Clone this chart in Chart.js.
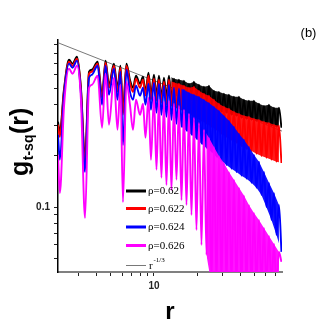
<!DOCTYPE html>
<html>
<head>
<meta charset="utf-8">
<script src="https://cdn.jsdelivr.net/npm/chart.js@4.4.1/dist/chart.umd.min.js"></script>
<style>
  html, body { margin: 0; padding: 0; background: #ffffff; }
  #wrap { width: 327px; height: 327px; position: relative; }
</style>
</head>
<body>
<div id="wrap"><canvas id="c"></canvas></div>
<script>
// ---- data ----
const rValues = [
  2.155, 2.22, 2.37, 2.57, 2.72, 2.92, 3.11, 3.32, 3.54, 3.71, 4.06, 4.36, 4.61, 4.87,
  5.27, 5.58, 5.85, 6.09, 6.44, 6.81, 7.15, 7.50, 8.00, 8.39, 8.73, 9.16, 9.53,
  10.00, 10.41, 10.83, 11.27, 11.73, 12.21, 12.71, 13.23, 13.77, 14.33, 14.92, 15.53, 16.16,
  16.82, 17.50, 18.22, 18.96, 19.73, 20.54, 21.38, 22.25, 23.16, 24.10, 25.08, 26.10, 27.17,
  28.28, 29.43, 30.63, 31.88, 33.18, 34.53, 35.94, 37.41, 38.94, 40.52, 42.17, 43.89, 45.68,
  47.55, 49.49, 51.51, 53.61, 55.80, 58.07, 60.44, 62.91, 65.48, 68.15, 70.93, 73.82, 76.83
];
const g_rho0620 = [
  0.318, 0.277, 0.490, 0.735, 0.697, 0.766, 0.503, 0.195, 0.625, 0.642, 0.716, 0.458, 0.726, 0.524,
  0.697, 0.503, 0.678, 0.374, 0.697, 0.561, 0.503, 0.592, 0.531, 0.584, 0.476, 0.617, 0.458,
  0.600, 0.452, 0.592, 0.440, 0.576, 0.446, 0.592, 0.434, 0.568, 0.452, 0.561, 0.428, 0.553,
  0.422, 0.531, 0.428, 0.546, 0.410, 0.524, 0.405, 0.510, 0.394, 0.517, 0.384, 0.483, 0.374,
  0.476, 0.364, 0.464, 0.359, 0.458, 0.349, 0.446, 0.344, 0.446, 0.335, 0.428, 0.331, 0.422,
  0.326, 0.422, 0.322, 0.405, 0.318, 0.394, 0.309, 0.400, 0.301, 0.384, 0.297, 0.384, 0.293
];
const g_rho0622 = [
  0.305, 0.259, 0.476, 0.716, 0.678, 0.745, 0.490, 0.182, 0.608, 0.625, 0.697, 0.440, 0.706, 0.503,
  0.678, 0.476, 0.660, 0.349, 0.678, 0.538, 0.476, 0.568, 0.503, 0.561, 0.452, 0.592, 0.428,
  0.568, 0.422, 0.561, 0.410, 0.546, 0.400, 0.561, 0.394, 0.538, 0.384, 0.531, 0.374, 0.517,
  0.364, 0.503, 0.349, 0.510, 0.335, 0.483, 0.322, 0.464, 0.309, 0.452, 0.297, 0.428, 0.285,
  0.405, 0.270, 0.389, 0.259, 0.379, 0.249, 0.364, 0.239, 0.354, 0.229, 0.344, 0.220, 0.340,
  0.214, 0.331, 0.206, 0.326, 0.200, 0.318, 0.195, 0.313, 0.190, 0.305, 0.185, 0.301, 0.182
];
const g_rho0624 = [
  0.266, 0.190, 0.452, 0.697, 0.660, 0.726, 0.464, 0.161, 0.576, 0.600, 0.678, 0.400, 0.678, 0.458,
  0.651, 0.428, 0.625, 0.232, 0.642, 0.476, 0.428, 0.517, 0.452, 0.503, 0.400, 0.531, 0.374,
  0.538, 0.359, 0.531, 0.349, 0.517, 0.340, 0.524, 0.326, 0.503, 0.309, 0.497, 0.297, 0.490,
  0.281, 0.470, 0.266, 0.458, 0.252, 0.446, 0.236, 0.428, 0.223, 0.410, 0.212, 0.389, 0.198,
  0.369, 0.187, 0.344, 0.177, 0.322, 0.168, 0.297, 0.161, 0.270, 0.153, 0.249, 0.147, 0.226,
  0.139, 0.203, 0.130, 0.185, 0.118, 0.161, 0.100, 0.139, 0.0842, 0.121, 0.0687, 0.103, 0.0546
];
const g_rho0626 = [
  0.203, 0.121, 0.384, 0.651, 0.608, 0.678, 0.428, 0.0865, 0.503, 0.524, 0.592, 0.293, 0.608, 0.305,
  0.576, 0.285, 0.524, 0.107, 0.546, 0.400, 0.285, 0.428, 0.349, 0.405, 0.256, 0.440, 0.190,
  0.446, 0.166, 0.428, 0.149, 0.416, 0.135, 0.422, 0.126, 0.405, 0.145, 0.394, 0.110, 0.374,
  0.103, 0.354, 0.090, 0.335, 0.0735, 0.313, 0.060, 0.285, 0.0524, 0.256, 0.035, 0.226, 0.035,
  0.200, 0.035, 0.182, 0.035, 0.161, 0.035, 0.145, 0.035, 0.130, 0.035, 0.117, 0.035, 0.103,
  0.035, 0.0925, 0.035, 0.0842, 0.035, 0.0755, 0.035, 0.0678, 0.035, 0.0608, 0.035, 0.0546, 0.0477
];
const powerR = [2.155, 77.4];
const powerG = [0.925, 0.280];

const seriesLabels = ['\u03C1=0.62', '\u03C1=0.622', '\u03C1=0.624', '\u03C1=0.626'];
const seriesColors = ['#000000', '#ff0000', '#0000ff', '#ff00ff'];
const bandColors = ['rgba(0,0,0,0.9)', 'rgba(255,0,0,0.9)', 'rgba(0,0,255,0.92)', 'rgba(255,0,255,0.92)'];
const powerLabel = 'r';
const powerSup = '-1/3';
const xTickValues = [3, 4, 5, 6, 7, 8, 9, 10, 20, 30, 40, 50, 60, 70];
const xTickLabels = { 10: '10' };
const yTickValues = [0.05, 0.06, 0.07, 0.08, 0.09, 0.1, 0.2, 0.3, 0.4, 0.5, 0.6, 0.7, 0.8, 0.9];
const yTickLabels = { 0.1: '0.1' };

// index in rValues where the dense (peak/trough alternating) part starts,
// and, per series, where the oscillation becomes a solid band
const denseStart = 27;
const bandStart = [33, 33, 37, 47];

// ---- build datasets ----
const seriesG = [g_rho0620, g_rho0622, g_rho0624, g_rho0626];
const drawOrder = [3, 2, 1, 0]; // magenta drawn on top
const datasets = [];
seriesG.forEach((arr, i) => {
  datasets.push({
    label: seriesLabels[i],
    data: rValues.map((r, j) => ({ x: r, y: arr[j] })),
    borderColor: seriesColors[i],
    borderWidth: 1.9,
    pointRadius: 0,
    cubicInterpolationMode: 'monotone',
    fill: false,
    clip: 0,
    order: drawOrder[i]
  });
  // envelope of the dense oscillation: peaks (upper) filled down to troughs (lower)
  const upper = [], lower = [];
  rValues.forEach((r, j) => {
    if (j < bandStart[i]) return;
    if ((j - denseStart) % 2 === 0) upper.push({ x: r, y: arr[j] });
    else lower.push({ x: r, y: arr[j] });
  });
  datasets.push({
    label: seriesLabels[i] + ' band',
    data: upper,
    borderWidth: 0,
    borderColor: 'rgba(0,0,0,0)',
    backgroundColor: bandColors[i],
    pointRadius: 0,
    tension: 0,
    fill: '+1',
    clip: 0,
    order: drawOrder[i] + 0.5
  });
  datasets.push({
    label: seriesLabels[i] + ' band low',
    data: lower,
    borderWidth: 0,
    borderColor: 'rgba(0,0,0,0)',
    pointRadius: 0,
    tension: 0,
    fill: false,
    clip: 0,
    order: drawOrder[i] + 0.5
  });
});
datasets.push({
  label: 'r^-1/3',
  data: powerR.map((r, j) => ({ x: r, y: powerG[j] })),
  borderColor: '#555555',
  borderWidth: 0.8,
  pointRadius: 0,
  fill: false,
  clip: 0,
  order: 10
});

const SANS = '"Liberation Sans", Arial, sans-serif';
const SERIF = '"Liberation Serif", "Times New Roman", serif';

const decor = {
  id: 'decor',
  afterDraw(chart) {
    const ctx = chart.ctx;
    ctx.save();
    // legend
    const ly = [191, 208.5, 227, 245.5];
    for (let i = 0; i < 4; i++) {
      ctx.strokeStyle = seriesColors[i];
      ctx.lineWidth = 3;
      ctx.beginPath(); ctx.moveTo(126, ly[i]); ctx.lineTo(146, ly[i]); ctx.stroke();
      ctx.fillStyle = '#000';
      ctx.font = '11px ' + SERIF;
      ctx.textBaseline = 'middle';
      ctx.textAlign = 'left';
      ctx.fillText(seriesLabels[i], 148, ly[i] + 0.5);
    }
    ctx.strokeStyle = '#555';
    ctx.lineWidth = 0.8;
    ctx.beginPath(); ctx.moveTo(126, 265.5); ctx.lineTo(146, 265.5); ctx.stroke();
    ctx.fillStyle = '#000';
    ctx.font = '11px ' + SERIF;
    ctx.textBaseline = 'middle';
    ctx.fillText(powerLabel, 149, 266);
    ctx.font = '7px ' + SERIF;
    ctx.fillText(powerSup, 153.5, 260);

    // (b)
    ctx.font = '13px ' + SANS;
    ctx.textAlign = 'center';
    ctx.textBaseline = 'alphabetic';
    ctx.fillText('(b)', 308.5, 37);

    // x title
    ctx.font = 'bold 24px ' + SANS;
    ctx.fillText('r', 170, 319);

    // y title (rotated)
    ctx.translate(28, 176);
    ctx.rotate(-Math.PI / 2);
    ctx.textAlign = 'left';
    ctx.font = 'bold 25px ' + SANS;
    let x = 0;
    ctx.fillText('g', x, 0);
    x += ctx.measureText('g').width + 0.5;
    ctx.font = 'bold 14px ' + SANS;
    ctx.fillText('t-sq', x, 5);
    x += ctx.measureText('t-sq').width + 0.5;
    ctx.font = 'bold 25px ' + SANS;
    ctx.fillText('(r)', x, 0);
    ctx.restore();
  }
};

new Chart(document.getElementById('c'), {
  type: 'line',
  data: { datasets },
  options: {
    responsive: true,
    maintainAspectRatio: false,
    animation: false,
    events: [],
    layout: { padding: { left: 0, right: 45, top: 40, bottom: 0 } },
    plugins: {
      legend: { display: false },
      tooltip: { enabled: false },
      title: { display: false },
      filler: { drawTime: 'beforeDatasetDraw' }
    },
    scales: {
      x: {
        type: 'logarithmic',
        min: 2.155,
        max: 77.5,
        afterBuildTicks: (s) => { s.ticks = xTickValues.map(v => ({ value: v })); },
        afterFit: (s) => { s.height = 55; },
        ticks: {
          autoSkip: false,
          maxRotation: 0,
          padding: 4,
          color: '#222',
          font: { family: SANS, size: 10, weight: 'bold' },
          callback: (v) => xTickLabels[v] || ''
        },
        grid: { drawOnChartArea: false, drawTicks: true, tickLength: 4, color: '#222', tickWidth: 1 },
        border: { display: true, color: '#808080', width: 2 }
      },
      y: {
        type: 'logarithmic',
        min: 0.0416,
        max: 0.96,
        afterBuildTicks: (s) => { s.ticks = yTickValues.map(v => ({ value: v })); },
        afterFit: (s) => { s.width = 58; },
        ticks: {
          autoSkip: false,
          padding: 4,
          color: '#222',
          font: { family: SANS, size: 10, weight: 'bold' },
          callback: (v) => yTickLabels[v] || ''
        },
        grid: { drawOnChartArea: false, drawTicks: true, tickLength: 4, color: '#222', tickWidth: 1 },
        border: { display: true, color: '#000', width: 1.5 }
      }
    }
  },
  plugins: [decor]
});
</script>
</body>
</html>
